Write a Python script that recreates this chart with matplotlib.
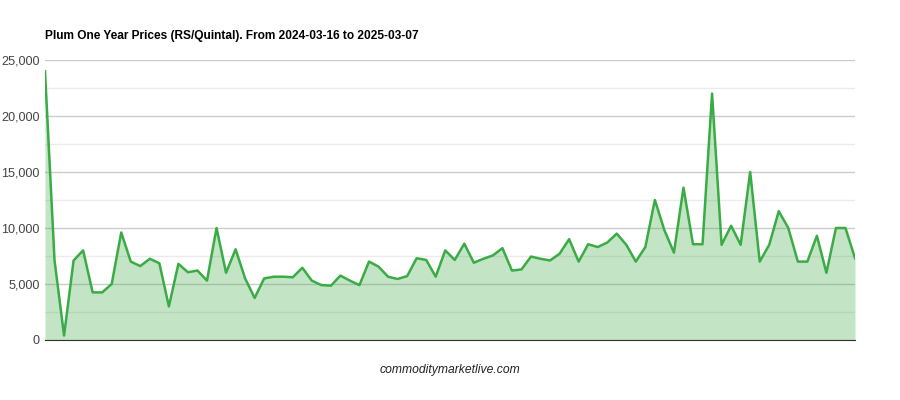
import matplotlib
matplotlib.use("Agg")
import matplotlib.pyplot as plt
from matplotlib.ticker import FuncFormatter, MultipleLocator

# Prices (RS/Quintal), 2024-03-16 .. 2025-03-07
prices = [
    24000, 7100, 400, 7100, 8000, 4250, 4250, 5000, 9600, 7000,
    6600, 7250, 6850, 3000, 6800, 6050, 6200, 5300, 10000, 6000,
    8100, 5500, 3750, 5500, 5650, 5650, 5600, 6450, 5300, 4900,
    4850, 5750, 5300, 4900, 7000, 6550, 5650, 5450, 5700, 7300,
    7150, 5650, 8000, 7150, 8600, 6900, 7250, 7550, 8200, 6200,
    6300, 7450, 7250, 7100, 7700, 9000, 7000, 8550, 8300, 8700,
    9500, 8500, 7000, 8300, 12500, 9800, 7800, 13600, 8550, 8550,
    22000, 8500, 10200, 8500, 15000, 7000, 8500, 11500, 10000, 7000,
    7000, 9300, 6000, 10000, 10000, 7300,
]
title = "Plum One Year Prices (RS/Quintal). From 2024-03-16 to 2025-03-07"
source = "commoditymarketlive.com"

line_color = "#3aab45"

plt.rcParams['font.family'] = ['Liberation Sans', 'DejaVu Sans']

fig = plt.figure(figsize=(9, 4), dpi=100)
ax = fig.add_axes([0.05, 0.15, 0.90, 0.70])

x = list(range(len(prices)))
ax.fill_between(x, prices, 0, color=line_color, alpha=0.3, linewidth=0, zorder=2)
ax.plot(x, prices, color=line_color, linewidth=1.8, zorder=3)

ax.set_xlim(0, len(prices) - 1)
ax.set_ylim(0, 25000)
ax.yaxis.set_major_locator(MultipleLocator(5000))
ax.yaxis.set_minor_locator(MultipleLocator(2500))
ax.yaxis.set_major_formatter(FuncFormatter(lambda v, p: f"{int(v):,}"))
ax.grid(axis='y', which='major', color='#cccccc', linewidth=1, zorder=1)
ax.grid(axis='y', which='minor', color='#ebebeb', linewidth=1, zorder=1)
ax.set_axisbelow(True)

for s in ['top', 'right', 'left']:
    ax.spines[s].set_visible(False)
ax.spines['bottom'].set_color('#333333')
ax.spines['bottom'].set_zorder(4)
ax.set_xticks([])
ax.tick_params(axis='y', which='both', length=0, pad=4, labelsize=9.1, labelcolor='#444444')

fig.text(0.05, 0.91, title, fontsize=8.6, fontweight='bold', ha='left', va='center')
fig.text(0.5, 0.075, source, fontsize=8.7, style='italic', ha='center', va='center', color='#222222')

fig.savefig("out.png", dpi=100)
